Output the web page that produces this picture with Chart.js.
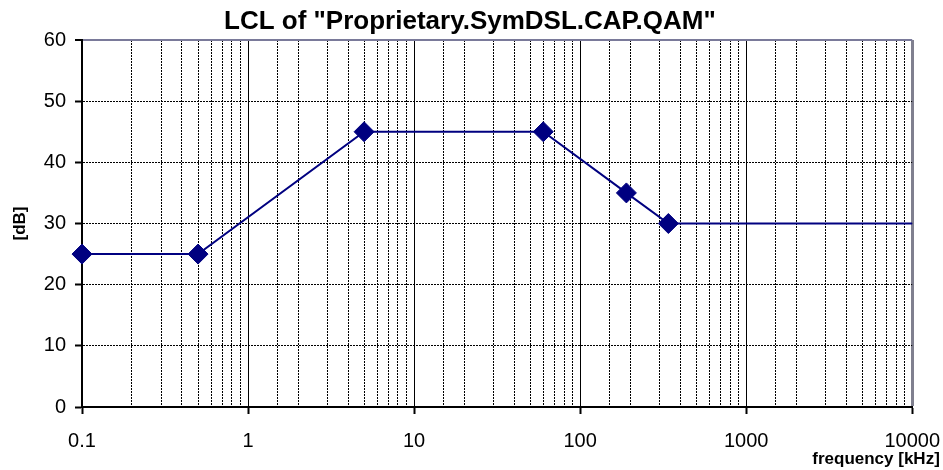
<!DOCTYPE html>
<html><head><meta charset="utf-8">
<script src="https://cdn.jsdelivr.net/npm/chart.js@4"></script>
<style>html,body{margin:0;padding:0;background:#fff;}canvas{display:block;}</style>
</head><body>
<canvas id="c" width="943" height="470"></canvas>
<script>
const frequencyKHz = [0.1, 0.5, 5, 60, 190, 340, 10000];
const lclDb = [25, 25, 45, 45, 35, 30, 30];
const showMarker = [true, true, true, true, true, true, false];
const xDecadeLabels = ['0.1', '1', '10', '100', '1000', '10000'];
const yTickValues = [0, 10, 20, 30, 40, 50, 60];
const chartTitle = 'LCL of "Proprietary.SymDSL.CAP.QAM"';
const xAxisTitle = 'frequency [kHz]';
const yAxisTitle = '[dB]';

const FONT = "'Liberation Sans', Arial, sans-serif";
const X_MIN = parseFloat(xDecadeLabels[0]);
const X_MAX = parseFloat(xDecadeLabels[xDecadeLabels.length - 1]);
const Y_MIN = yTickValues[0];
const Y_MAX = yTickValues[yTickValues.length - 1];

function near(a, b) { return Math.abs(Math.log10(a) - Math.log10(b)) < 1e-6; }
function isDecade(v) { return xDecadeLabels.some(s => near(parseFloat(s), v)); }
function decadeLabel(v) { const s = xDecadeLabels.find(s => near(parseFloat(s), v)); return s || ''; }

const points = frequencyKHz.map((f, i) => ({ x: f, y: lclDb[i] }));

new Chart(document.getElementById('c'), {
  type: 'line',
  data: {
    datasets: [{
      data: points,
      borderColor: '#000080',
      borderWidth: 2,
      tension: 0,
      pointStyle: 'rectRot',
      pointRadius: showMarker.map(m => m ? 10 : 0),
      pointBackgroundColor: '#000080',
      pointBorderColor: '#000080',
      pointBorderWidth: 1,
      clip: false
    }]
  },
  options: {
    responsive: false,
    animation: false,
    devicePixelRatio: 1,
    layout: { padding: { right: 3.2 } },
    plugins: {
      legend: { display: false },
      tooltip: { enabled: false },
      title: {
        display: true, text: chartTitle, color: '#000',
        font: { family: FONT, size: 26, weight: 'bold', lineHeight: 1.2 },
        padding: { top: 6, bottom: 2.8 }
      },
      subtitle: {
        display: true, text: xAxisTitle, position: 'bottom', align: 'end', color: '#000',
        font: { family: FONT, size: 17, weight: 'bold', lineHeight: 1.2 },
        padding: { top: 0, bottom: 0 }
      }
    },
    scales: {
      x: {
        type: 'logarithmic',
        min: X_MIN, max: X_MAX,
        afterFit: s => { s.height = 42.6; s.paddingRight = 30.8; s.paddingLeft = 0; },
        ticks: {
          autoSkip: false, maxRotation: 0, minRotation: 0,
          color: '#000', font: { family: FONT, size: 20 }, padding: 15,
          callback: v => isDecade(v) ? decadeLabel(v) : ''
        },
        grid: {
          color: c => {
            if (!c.tick) return '#000';
            if (c.index === 0) return 'rgba(0,0,0,0)';
            if (near(c.tick.value, X_MAX)) return '#80808f';
            return '#000';
          },
          lineWidth: c => (c.tick && near(c.tick.value, X_MAX)) ? 3 : 1,
          tickColor: c => (c.tick && isDecade(c.tick.value)) ? '#000' : 'rgba(0,0,0,0)',
          tickLength: 7, tickWidth: 2
        },
        border: {
          color: '#000', width: 2,
          dash: c => (c.tick && !isDecade(c.tick.value)) ? [2, 1] : []
        }
      },
      y: {
        min: Y_MIN, max: Y_MAX,
        afterFit: s => { s.width = 82; },
        afterBuildTicks: s => { s.ticks = yTickValues.map(v => ({ value: v })); },
        ticks: { color: '#000', font: { family: FONT, size: 20 }, padding: 9 },
        title: {
          display: true, text: yAxisTitle, color: '#000',
          font: { family: FONT, size: 17, weight: 'bold', lineHeight: 1.2 },
          padding: { top: 10, bottom: 4 }
        },
        grid: {
          color: c => {
            if (!c.tick) return '#000';
            if (c.tick.value === Y_MIN) return 'rgba(0,0,0,0)';
            if (c.tick.value === Y_MAX) return '#7a7a9a';
            return '#000';
          },
          lineWidth: c => (c.tick && c.tick.value === Y_MAX) ? 2 : 1,
          tickColor: '#000', tickLength: 7, tickWidth: 2
        },
        border: {
          color: '#000', width: 2,
          dash: c => (c.tick && c.tick.value !== Y_MIN && c.tick.value !== Y_MAX) ? [2, 1] : []
        }
      }
    }
  }
});
</script>
</body></html>
